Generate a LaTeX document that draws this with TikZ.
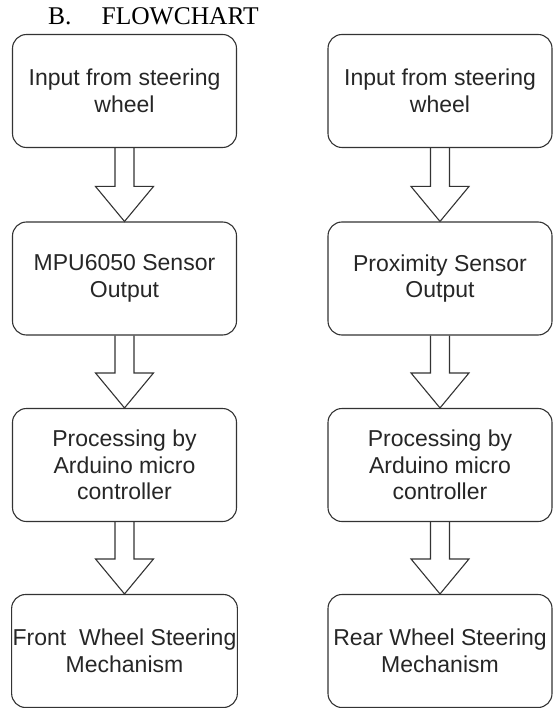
\documentclass[tikz,border=0pt]{standalone}
\usepackage{fontspec}
\setmainfont{Liberation Serif}
\setsansfont{Liberation Sans}
\usetikzlibrary{calc}

\begin{document}
\begin{tikzpicture}[x=1pt, y=-1pt,
	box/.style={draw=black!80, line width=1.1pt, rounded corners=14pt,
		minimum width=224pt, minimum height=113pt, inner sep=1pt, align=center,
		font=\sffamily\fontsize{23}{26.5}\selectfont, text=black!85},
	fatarrow/.style={draw=black!80, line width=1.1pt, line join=miter}]
	
	\useasboundingbox (0,0) rectangle (553,708);
	
	% Title
	\node[anchor=base west, inner sep=0pt, font=\fontsize{25.5}{30}\selectfont] (title) at (48,25) {B.\hspace{30pt}FLOWCHART};
	
	% Left column
	\node[box] (in1)   at (124.5,91)    {Input from steering\\wheel};
	\node[box] (mpu)   at (124.5,278.5) {MPU6050 Sensor\\Output};
	\node[box] (proc1) at (124.5,465)   {Processing by\\Arduino micro\\controller};
	\node[box] (front) at (124.5,651)   {Front~ Wheel Steering\\Mechanism};
	
	% Right column
	\node[box] (in2)   at (440,91)    {Input from steering\\wheel};
	\node[box] (prox)  at (440,278.5) {Proximity Sensor\\Output};
	\node[box] (proc2) at (440,465)   {Processing by\\Arduino micro\\controller};
	\node[box] (rear)  at (440,651)   {Rear Wheel Steering\\Mechanism};
	
	% Block arrows, left
	\draw[fatarrow] ($(in1.south)+(-9.5,0)$) |- ($(mpu.north)+(-29,-35)$) -- (mpu.north) -- ++(29,-35) -| ($(in1.south)+(9.5,0)$);
	\draw[fatarrow] ($(mpu.south)+(-9.5,0)$) |- ($(proc1.north)+(-29,-35)$) -- (proc1.north) -- ++(29,-35) -| ($(mpu.south)+(9.5,0)$);
	\draw[fatarrow] ($(proc1.south)+(-9.5,0)$) |- ($(front.north)+(-29,-35)$) -- (front.north) -- ++(29,-35) -| ($(proc1.south)+(9.5,0)$);
	
	% Block arrows, right
	\draw[fatarrow] ($(in2.south)+(-9.5,0)$) |- ($(prox.north)+(-29,-35)$) -- (prox.north) -- ++(29,-35) -| ($(in2.south)+(9.5,0)$);
	\draw[fatarrow] ($(prox.south)+(-9.5,0)$) |- ($(proc2.north)+(-29,-35)$) -- (proc2.north) -- ++(29,-35) -| ($(prox.south)+(9.5,0)$);
	\draw[fatarrow] ($(proc2.south)+(-9.5,0)$) |- ($(rear.north)+(-29,-35)$) -- (rear.north) -- ++(29,-35) -| ($(proc2.south)+(9.5,0)$);
	
\end{tikzpicture}
\end{document}
